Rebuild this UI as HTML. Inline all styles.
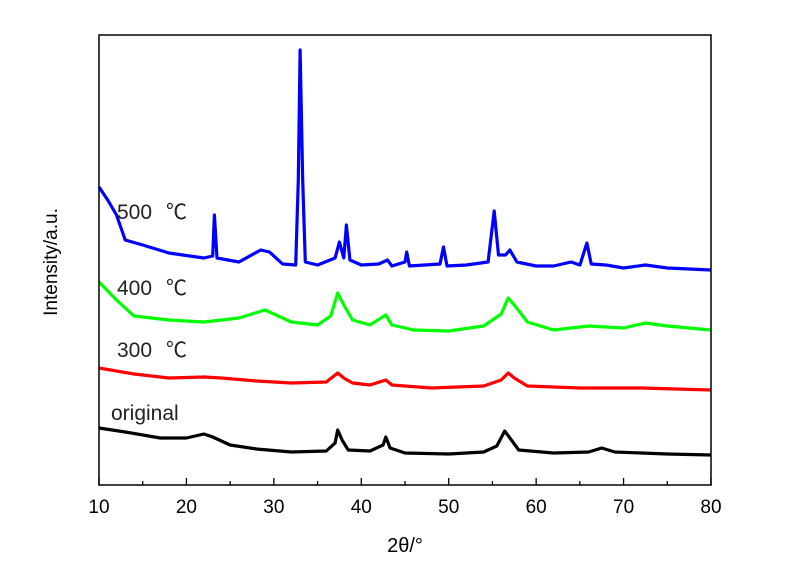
<!DOCTYPE html>
<html><head><meta charset="utf-8"><style>
body{margin:0;background:#fff;}
svg{display:block;font-family:"Liberation Sans","Noto Sans CJK SC",sans-serif;}
</style></head><body>
<svg width="800" height="574" viewBox="0 0 800 574">
<g id="series"></g>
<rect x="99" y="35" width="612" height="450" fill="none" stroke="#000" stroke-width="1.5"/>
<g id="ticks"></g>
<text x="405" y="552" font-size="20" text-anchor="middle">2θ/°</text>
<text transform="translate(57,262) rotate(-90)" font-size="19" text-anchor="middle">Intensity/a.u.</text>
<text x="117" y="219" font-size="21" fill="#222">500<tspan dx="14">℃</tspan></text>
<text x="117" y="295" font-size="21" fill="#222">400<tspan dx="14">℃</tspan></text>
<text x="117" y="357" font-size="21" fill="#222">300<tspan dx="14">℃</tspan></text>
<text x="111" y="420" font-size="21" fill="#222">original</text>
</svg>
<script>
// data in [2theta, intensity (a.u., 0-100)]
const xTicks=[10,20,30,40,50,60,70,80];
const minorTicks=[15,25,35,45,55,65,75];
const pxOriginal=[[10,428],[13,432],[17,438],[20,438],[22,434],[23,437],[25,445],[28,449],[32,452],[36,451],[37,443],[37.3,430],[37.8,440],[38.5,450],[41,451],[42.5,445],[42.8,437],[43.3,448],[45,453],[50,454],[54,452],[55.5,446],[56.4,431],[57,438],[58,450],[62,453],[66,452],[67.5,448],[69,452],[75,454],[80,455]];
const px300=[[10,368],[14,374],[18,378],[22,377],[24,378],[28,381],[32,383],[36,382],[37.3,373],[38,378],[39,383],[41,385],[42.8,380],[43.5,385],[48,388],[54,386],[56,380],[56.8,373],[57.5,378],[59,386],[65,388],[72,388],[80,390]];
const px400=[[10,282],[12,300],[14,316],[18,320],[22,322],[26,318],[29,310],[30,314],[32,322],[35,325],[36.5,316],[37.3,293],[38,305],[39,320],[41,325],[42.8,315],[43.5,325],[46,330],[50,331],[54,326],[56,314],[56.8,298],[57.5,305],[59,322],[62,330],[66,326],[70,328],[72.5,323],[75,326],[80,330]];
const px500=[[10,187],[11,200],[12,215],[13,240],[15,245],[18,253],[22,258],[23,256],[23.2,215],[23.5,258],[26,262],[28.5,250],[29.5,252],[31,264],[32.5,265],[32.8,180],[33,50],[33.3,180],[33.6,262],[35,265],[37,258],[37.5,242],[38,258],[38.3,225],[38.7,260],[40,265],[42,264],[43,260],[43.5,266],[45,262],[45.2,252],[45.5,266],[49,264],[49.4,247],[49.8,266],[52,265],[54.5,262],[55.2,211],[55.7,255],[56.5,255],[57,250],[57.8,262],[60,266],[62,266],[64,262],[65,265],[65.8,243],[66.3,264],[68,265],[70,268],[72.5,265],[75,268],[80,270]];
const toI=a=>a.map(p=>[p[0],(485-p[1])/4.5]);
const seriesOriginal=toI(pxOriginal), series300=toI(px300), series400=toI(px400), series500=toI(px500);
const NS="http://www.w3.org/2000/svg";
const X=v=>99+(v-10)*612/70;
const Y=v=>485-v*4.5;
const sg=document.getElementById('series');
[[seriesOriginal,'#000','series-original'],[series300,'#f00','series-300'],[series400,'#0f0','series-400'],[series500,'#00f','series-500']].forEach(s=>{
  const p=document.createElementNS(NS,'polyline');
  p.setAttribute('points',s[0].map(d=>X(d[0]).toFixed(1)+','+Y(d[1]).toFixed(1)).join(' '));
  p.setAttribute('fill','none');p.setAttribute('stroke',s[1]);p.setAttribute('stroke-width','3.2');p.setAttribute('stroke-linejoin','round');
  
  
  sg.appendChild(p);
});
const tg=document.getElementById('ticks');
xTicks.forEach(t=>{
  const l=document.createElementNS(NS,'line');
  l.setAttribute('x1',X(t));l.setAttribute('x2',X(t));l.setAttribute('y1',485);l.setAttribute('y2',478);l.setAttribute('stroke','#000');l.setAttribute('stroke-width','1.3');
  
  
  tg.appendChild(l);
  const tx=document.createElementNS(NS,'text');
  tx.setAttribute('x',X(t));tx.setAttribute('y',513);tx.setAttribute('font-size','19');tx.setAttribute('text-anchor','middle');
  tx.textContent=t;
  
  
  tg.appendChild(tx);
});
minorTicks.forEach(t=>{
  const l=document.createElementNS(NS,'line');
  l.setAttribute('x1',X(t));l.setAttribute('x2',X(t));l.setAttribute('y1',485);l.setAttribute('y2',481);l.setAttribute('stroke','#000');l.setAttribute('stroke-width','1.3');
  
  
  tg.appendChild(l);
});
</script>
</body></html>
